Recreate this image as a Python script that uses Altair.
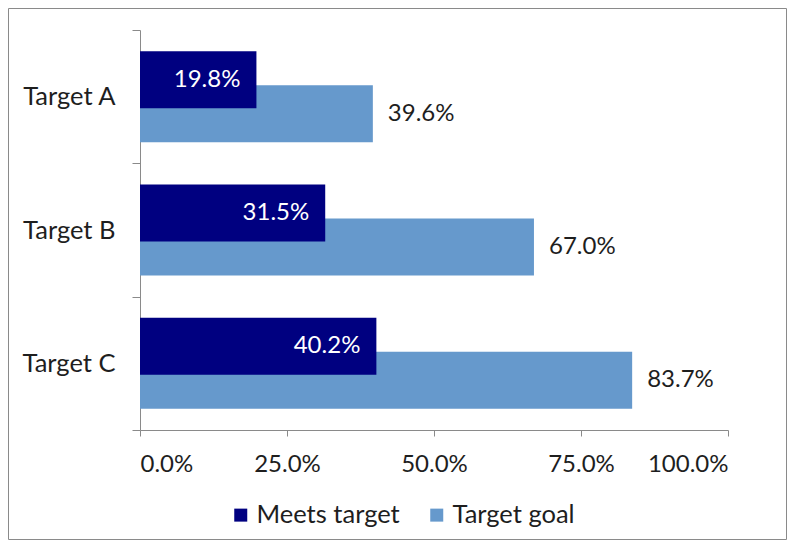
import altair as alt
import pandas as pd

targets = ["Target A", "Target B", "Target C"]
meets = [0.198, 0.315, 0.402]
goal = [0.396, 0.670, 0.837]
series = ["Meets target", "Target goal"]
colors = ["#000080", "#6699CC"]
x_ticks = [0.0, 0.25, 0.5, 0.75, 1.0]

rows = []
for t, m, g in zip(targets, meets, goal):
    rows.append({"target": t, "series": series[0], "value": m})
    rows.append({"target": t, "series": series[1], "value": g})
df = pd.DataFrame(rows)

FONT = "Lato"
TXT = "#1e1e1e"
GRAY = "#8a8a8a"

W, H = 588, 400
PAD = {"left": 132, "top": 22, "right": 59, "bottom": 110}

y_enc = alt.Y(
    "target:N",
    sort=targets,
    title=None,
    scale=alt.Scale(paddingInner=0, paddingOuter=0),
    axis=alt.Axis(
        tickBand="extent",
        tickSize=8,
        labelPadding=17,
        labelFontSize=25.5,
        labelFont=FONT,
        labelColor=TXT,
        domainColor=GRAY,
        tickColor=GRAY,
        grid=False,
    ),
)
x_enc = alt.X(
    "value:Q",
    title=None,
    scale=alt.Scale(domain=[0, 1], nice=False),
    axis=alt.Axis(
        values=x_ticks,
        format=".1%",
        tickSize=6,
        labelPadding=16,
        labelFontSize=24,
        labelFont=FONT,
        labelColor=TXT,
        domainColor=GRAY,
        tickColor=GRAY,
        grid=False,
    ),
)
color_enc = alt.Color(
    "series:N",
    scale=alt.Scale(domain=series, range=colors),
    legend=alt.Legend(
        title=None,
        orient="none",
        direction="horizontal",
        legendX=88,
        legendY=472,
        symbolType="square",
        symbolSize=169,
        symbolStrokeWidth=0,
        labelFontSize=25.5,
        labelFont=FONT,
        labelColor=TXT,
        labelOffset=3,
        columnPadding=24,
    ),
)

base = alt.Chart(df)

light = base.transform_filter(alt.datum.series == series[1]).mark_bar(
    height=57, yOffset=17
).encode(x=x_enc, y=y_enc, color=color_enc)

dark = base.transform_filter(alt.datum.series == series[0]).mark_bar(
    height=57, yOffset=-17
).encode(x=x_enc, y=y_enc, color=color_enc)

dark_lbl = base.transform_filter(alt.datum.series == series[0]).mark_text(
    align="right", baseline="middle", dx=-16, yOffset=-17,
    fontSize=24, font=FONT, color="white"
).encode(x="value:Q", y=alt.Y("target:N", sort=targets), text=alt.Text("value:Q", format=".1%"))

light_lbl = base.transform_filter(alt.datum.series == series[1]).mark_text(
    align="left", baseline="middle", dx=15, yOffset=17,
    fontSize=24, font=FONT, color=TXT
).encode(x="value:Q", y=alt.Y("target:N", sort=targets), text=alt.Text("value:Q", format=".1%"))

border = alt.Chart(alt.Data(values=[{"b": 1}])).mark_rect(
    fill=None, stroke=GRAY, strokeWidth=1
).encode(
    x=alt.value(-PAD["left"] + 0.5),
    x2=alt.value(W + PAD["right"] - 0.5),
    y=alt.value(-PAD["top"] + 0.5),
    y2=alt.value(H + PAD["bottom"] - 0.5),
)

chart = alt.layer(border, light, dark, dark_lbl, light_lbl).properties(
    width=W, height=H, padding=PAD, autosize=alt.AutoSizeParams(type="none"),
    background="white",
).configure_view(strokeWidth=0, stroke=None)

chart.save("out.html", embed_options={"renderer": "svg", "actions": False})
